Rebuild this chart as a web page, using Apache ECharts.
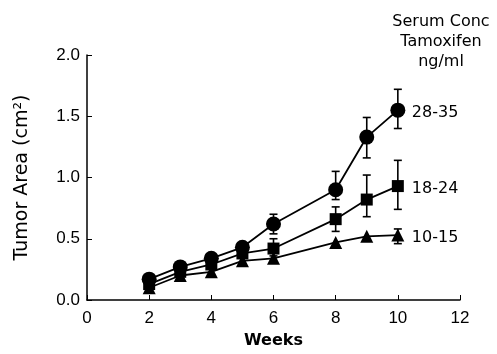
<!DOCTYPE html>
<html>
<head>
<meta charset="utf-8">
<script src="https://cdn.jsdelivr.net/npm/echarts@6/dist/echarts.min.js"></script>
<style>html,body{margin:0;padding:0;background:#fff}#c{width:497px;height:354px}</style>
</head>
<body>
<div id="c"></div>
<script>
const weeks = [2, 3, 4, 5, 6, 8, 9, 10];
const high = [0.17, 0.27, 0.34, 0.43, 0.62, 0.90, 1.33, 1.55];
const highLo = [null, null, null, null, 0.54, 0.82, 1.16, 1.40];
const highHi = [null, null, null, null, 0.70, 1.05, 1.49, 1.72];
const mid = [0.13, 0.23, 0.29, 0.38, 0.42, 0.66, 0.82, 0.93];
const midLo = [null, null, null, null, 0.36, 0.56, 0.68, 0.74];
const midHi = [null, null, null, null, 0.50, 0.76, 1.02, 1.14];
const low = [0.10, 0.20, 0.23, 0.32, 0.34, 0.47, 0.52, 0.53];
const lowLo = [null, null, null, null, null, null, null, 0.46];
const lowHi = [null, null, null, null, null, null, null, 0.58];
const seriesNames = ['28-35', '18-24', '10-15'];
const legendTitle = ['Serum Conc', 'Tamoxifen', 'ng/ml'];

const FONT = 'Liberation Sans';
const WIDE = 'DejaVu Sans';
const chart = echarts.init(document.getElementById('c'), null, {renderer: 'canvas'});

function pts(vals) { return weeks.map((w, i) => [w, vals[i]]); }
function errData(lo, hi) {
  const out = [];
  weeks.forEach((w, i) => { if (lo[i] != null) out.push([w, lo[i], hi[i]]); });
  return out;
}
function errSeries(lo, hi) {
  return {
    type: 'custom',
    data: errData(lo, hi),
    z: 1,
    renderItem: function (params, api) {
      const x = api.value(0);
      const pLo = api.coord([x, api.value(1)]);
      const pHi = api.coord([x, api.value(2)]);
      const cw = 4;
      const st = {stroke: '#000', lineWidth: 1.6};
      return {
        type: 'group',
        children: [
          {type: 'line', shape: {x1: pLo[0], y1: pLo[1], x2: pHi[0], y2: pHi[1]}, style: st},
          {type: 'line', shape: {x1: pLo[0] - cw, y1: pLo[1], x2: pLo[0] + cw, y2: pLo[1]}, style: st},
          {type: 'line', shape: {x1: pHi[0] - cw, y1: pHi[1], x2: pHi[0] + cw, y2: pHi[1]}, style: st}
        ]
      };
    }
  };
}
function lineSeries(name, vals, symbol, size) {
  return {
    type: 'line',
    name: name,
    data: pts(vals),
    symbol: symbol,
    symbolSize: size,
    z: 3,
    lineStyle: {color: '#000', width: 1.8},
    itemStyle: {color: '#000', borderWidth: 0},
    endLabel: {show: true, formatter: name, distance: 14, offset: [0, 3], color: '#000', fontFamily: WIDE, fontSize: 16},
    animation: false
  };
}

chart.setOption({
  animation: false,
  backgroundColor: '#fff',
  grid: {left: 87, right: 37, top: 55, bottom: 50},
  xAxis: {
    type: 'value', min: 0, max: 12, interval: 2,
    name: 'Weeks', nameLocation: 'middle', nameGap: 33,
    nameTextStyle: {fontFamily: WIDE, fontSize: 16, fontWeight: 'bold', color: '#000'},
    axisLine: {lineStyle: {color: '#000', width: 1.5}},
    axisTick: {inside: true, length: 5, lineStyle: {color: '#000'}},
    axisLabel: {fontFamily: FONT, fontSize: 17, color: '#000', margin: 10},
    splitLine: {show: false}
  },
  yAxis: {
    type: 'value', min: 0, max: 2, interval: 0.5,
    name: 'Tumor Area (cm²)', nameLocation: 'middle', nameGap: 55,
    nameTextStyle: {fontFamily: WIDE, fontSize: 19, color: '#000'},
    axisLine: {show: true, lineStyle: {color: '#000', width: 1.5}},
    axisTick: {show: true, inside: true, length: 5, lineStyle: {color: '#000'}},
    axisLabel: {fontFamily: FONT, fontSize: 17, color: '#000', margin: 7, formatter: v => v.toFixed(1)},
    splitLine: {show: false}
  },
  graphic: legendTitle.map((t, i) => ({
    type: 'text', x: 441, y: 22 + i * 20,
    style: {text: t, fontFamily: WIDE, fontSize: 16, fill: '#000', align: 'center', verticalAlign: 'middle'}
  })),
  series: [
    errSeries(highLo, highHi),
    errSeries(midLo, midHi),
    errSeries(lowLo, lowHi),
    lineSeries(seriesNames[0], high, 'circle', 15),
    lineSeries(seriesNames[1], mid, 'rect', 12),
    lineSeries(seriesNames[2], low, 'triangle', 13)
  ]
});
</script>
</body>
</html>
